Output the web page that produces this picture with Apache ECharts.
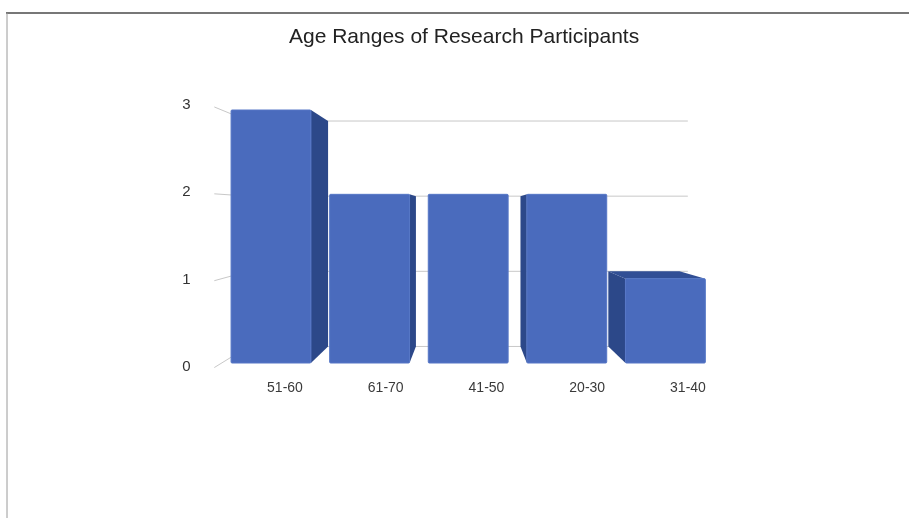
<!DOCTYPE html>
<html>
<head>
<meta charset="utf-8">
<title>Age Ranges of Research Participants</title>
<script src="https://cdn.jsdelivr.net/npm/echarts@6/dist/echarts.min.js"></script>
<style>
  html, body { margin: 0; padding: 0; background: #fff; }
  #chart { width: 909px; height: 518px; }
</style>
</head>
<body>
<div id="chart"></div>
<script>
// Participant counts per age range
const categories = ['51-60', '61-70', '41-50', '20-30', '31-40'];
const counts = [3, 2, 2, 2, 1];
const yTicks = [0, 1, 2, 3];

// Pseudo-3D projection settings
const DEPTH = 0.891;       // back face scale relative to the front face
const LABEL_PLANE = 1.03;  // front edge of the left wall
const HORIZON = 1.8;       // eye height, in axis units
const BAR_RATIO = 0.81;    // bar width as share of a category band

const FONT = "'Liberation Sans', Arial, sans-serif";
const FRONT = '#4a6bbd';
const SIDE = '#2c4889';
const TOP = '#314f95';

function vanishing(api) {
  const first = api.coord([0, 0])[0];
  const last = api.coord([categories.length - 1, 0])[0];
  return [(first + last) / 2, api.coord([0, HORIZON])[1]];
}
function project(vp, p, k) {
  return [vp[0] + (p[0] - vp[0]) * k, vp[1] + (p[1] - vp[1]) * k];
}

const chart = echarts.init(document.getElementById('chart'), null, { renderer: 'canvas' });

chart.setOption({
  animation: false,
  backgroundColor: '#fff',
  title: {
    text: 'Age Ranges of Research Participants',
    left: 284,
    top: 22,
    textStyle: { fontFamily: FONT, fontSize: 21, fontWeight: 'normal', color: '#222' }
  },
  graphic: [
    { type: 'line', shape: { x1: 6, y1: 13, x2: 909, y2: 13 }, style: { stroke: '#4a4a4a', lineWidth: 1.5 } },
    { type: 'line', shape: { x1: 7, y1: 13, x2: 7, y2: 518 }, style: { stroke: '#9a9a9a', lineWidth: 1 } }
  ],
  grid: [
    // label plane
    { left: 234.6, width: 503.75, top: 105, height: 262 },
    // bar front plane
    { left: 221.7, width: 493, top: 110, height: 253 }
  ],
  xAxis: [
    {
      gridIndex: 0, type: 'category', data: categories,
      axisLine: { show: false }, axisTick: { show: false },
      axisLabel: { margin: 14, fontSize: 14, color: '#3a3a3a', fontFamily: FONT }
    },
    { gridIndex: 1, type: 'category', data: categories, show: false }
  ],
  yAxis: [
    {
      gridIndex: 0, type: 'value', min: 0, max: 3, interval: 1,
      axisLine: { show: false }, axisTick: { show: false }, splitLine: { show: false },
      axisLabel: { margin: 44, fontSize: 15, color: '#333', fontFamily: FONT }
    },
    { gridIndex: 1, type: 'value', min: 0, max: 3, interval: 1, show: false }
  ],
  series: [
    {
      // grid lines: left wall segment + back wall
      type: 'custom',
      xAxisIndex: 1, yAxisIndex: 1,
      z: 1,
      silent: true,
      data: yTicks.map(v => [0, v]),
      renderItem: function (params, api) {
        const vp = vanishing(api);
        const v = api.value(1);
        const band = api.size([1, 0])[0];
        const y = api.coord([0, v])[1];
        const left = api.coord([0, 0])[0] - band / 2;
        const right = api.coord([categories.length - 1, 0])[0] + band / 2;
        const a = project(vp, [left, y], LABEL_PLANE);
        const b = project(vp, [left, y], DEPTH);
        const c = project(vp, [right, y], DEPTH);
        return {
          type: 'polyline',
          shape: { points: [a, b, c] },
          style: { stroke: '#c8c8c8', lineWidth: 1, fill: null }
        };
      }
    },
    {
      // 3D bars
      type: 'custom',
      xAxisIndex: 1, yAxisIndex: 1,
      z: 2,
      data: categories.map((c, i) => [i, counts[i]]),
      renderItem: function (params, api) {
        const vp = vanishing(api);
        const i = api.value(0);
        const v = api.value(1);
        const top = api.coord([i, v]);
        const base = api.coord([i, 0]);
        const w = api.size([1, 0])[0] * BAR_RATIO;
        const x0 = top[0] - w / 2, x1 = top[0] + w / 2;
        const yT = top[1], yB = base[1];
        const children = [];
        if (x1 < vp[0]) {
          children.push({
            type: 'polygon',
            shape: { points: [[x1, yT], [x1, yB], project(vp, [x1, yB], DEPTH), project(vp, [x1, yT], DEPTH)] },
            style: { fill: SIDE }
          });
        }
        if (x0 > vp[0]) {
          children.push({
            type: 'polygon',
            shape: { points: [[x0, yT], [x0, yB], project(vp, [x0, yB], DEPTH), project(vp, [x0, yT], DEPTH)] },
            style: { fill: SIDE }
          });
        }
        if (yT > vp[1]) {
          children.push({
            type: 'polygon',
            shape: { points: [[x0, yT], [x1, yT], project(vp, [x1, yT], DEPTH), project(vp, [x0, yT], DEPTH)] },
            style: { fill: TOP }
          });
        }
        children.push({
          type: 'rect',
          shape: { x: x0, y: yT, width: w, height: yB - yT, r: 1 },
          style: { fill: FRONT, stroke: '#5677c6', lineWidth: 1 }
        });
        return { type: 'group', children: children };
      }
    }
  ]
});
</script>
</body>
</html>
